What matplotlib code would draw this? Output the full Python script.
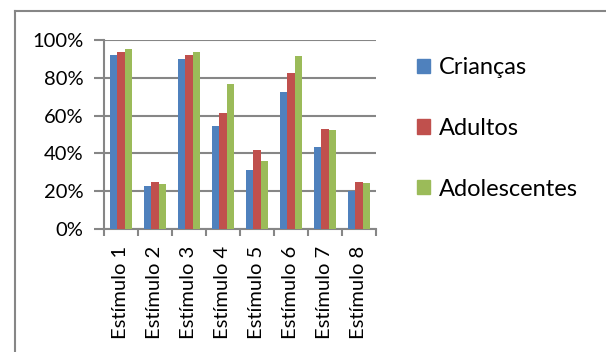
import matplotlib
matplotlib.use("Agg")
import matplotlib.pyplot as plt
import numpy as np
from matplotlib.patches import Rectangle
from matplotlib.lines import Line2D

categories = ["Estímulo 1", "Estímulo 2", "Estímulo 3", "Estímulo 4",
              "Estímulo 5", "Estímulo 6", "Estímulo 7", "Estímulo 8"]
criancas = [91.8, 22.7, 89.9, 54.4, 31.1, 72.3, 43.3, 19.9]
adultos = [93.4, 24.8, 91.8, 61.6, 42.0, 82.5, 52.9, 24.8]
adolescentes = [95.0, 23.7, 93.6, 76.5, 36.1, 91.5, 52.2, 24.5]
series_names = ["Crianças", "Adultos", "Adolescentes"]
colors = ["#4F81BD", "#C0504D", "#9BBB59"]
yticks = [0, 20, 40, 60, 80, 100]
ytick_labels = ["0%", "20%", "40%", "60%", "80%", "100%"]

plt.rcParams['font.family'] = ['Lato', 'DejaVu Sans']

W, H = 606, 352
fig = plt.figure(figsize=(W/100, H/100), dpi=100)
ax = fig.add_axes([104/W, 1-229/H, (376-104)/W, (229-40)/H])

x = np.arange(len(categories))
bw = 0.222
for i, (vals, name, c) in enumerate(zip([criancas, adultos, adolescentes], series_names, colors)):
    ax.bar(x + (i-1)*bw, vals, width=bw, color=c, label=name, zorder=3)

ax.set_xlim(-0.5, len(categories)-0.5)
ax.set_ylim(0, 100)
ax.set_yticks(yticks)
ax.set_yticklabels(ytick_labels, fontsize=14.5)
ax.yaxis.grid(True, color="#868686", linewidth=1.5, zorder=0)
ax.set_xticks(np.arange(len(categories)+1)-0.5)
ax.set_xticklabels([])
ax.set_xticks(x, minor=True)
ax.set_xticklabels(categories, minor=True, rotation=90, fontsize=14.5)
ax.tick_params(axis='x', which='minor', length=0, pad=12)
ax.tick_params(axis='x', which='major', length=5, width=1.5, color="#868686", direction='out')
ax.tick_params(axis='y', length=7, width=1.5, color="#868686", pad=8)
for s in ["top", "right"]:
    ax.spines[s].set_visible(False)
for s in ["left", "bottom"]:
    ax.spines[s].set_color("#868686")
    ax.spines[s].set_linewidth(1.5)

handles = [Rectangle((0, 0), 1, 1, color=c) for c in colors]
fig.legend(handles, series_names, loc="upper left", bbox_to_anchor=(396/W, 1-36/H),
           frameon=False, fontsize=17, handlelength=0.55, handleheight=0.55,
           handletextpad=0.35, labelspacing=1.68)

fig.add_artist(Line2D([15/W, 15/W], [1-11/H, -0.1], color="#868686", lw=1.5))
fig.add_artist(Line2D([15/W, 1.1], [1-11/H, 1-11/H], color="#868686", lw=1.5))

fig.savefig("out.png", dpi=100, facecolor="white")
